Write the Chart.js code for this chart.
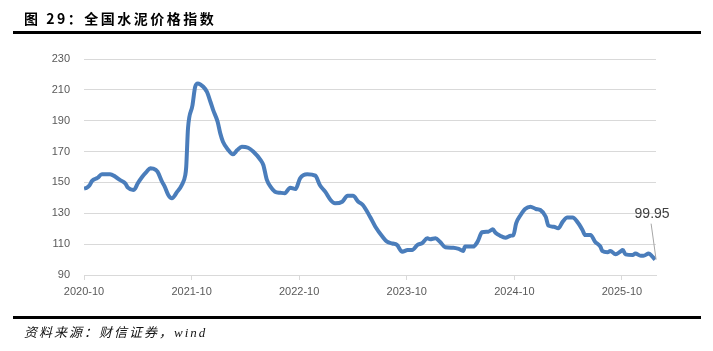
<!DOCTYPE html>
<html>
<head>
<meta charset="utf-8">
<script src="https://cdn.jsdelivr.net/npm/chart.js@4"></script>
<style>
  body { margin: 0; background: #fff; }
  #wrap { position: relative; width: 713px; height: 351px; overflow: hidden; }
  #chart { position: absolute; left: 0; top: 0; }
  .title {
    position: absolute; left: 24px; top: 8px;
    font-family: "Noto Sans CJK SC", sans-serif; font-weight: bold;
    font-size: 14px; letter-spacing: 2.5px; color: #000;
  }
  .rule { position: absolute; left: 13px; width: 688px; height: 3px; background: #000; }
  .source {
    position: absolute; left: 24px; top: 322px;
    font-family: "Liberation Serif", "Noto Sans CJK SC", serif; font-style: italic;
    font-size: 13px; letter-spacing: 2px; color: #111;
  }
</style>
</head>
<body>
<div id="wrap">
  <canvas id="chart" width="713" height="351"></canvas>
  <div class="title">图 29：全国水泥价格指数</div>
  <div class="rule" style="top:31px"></div>
  <div class="rule" style="top:316px"></div>
  <div class="source">资料来源：财信证券，wind</div>
</div>
<script>
// months since 2020-10
const months = [0.0, 0.3, 0.6, 0.9, 1.5, 2.0, 2.9, 3.5, 4.0, 4.6, 4.9, 5.5, 5.7, 6.0, 6.5, 7.0, 7.4, 7.7, 8.2, 8.7,
  9.0, 9.4, 9.8, 10.4, 10.9, 11.3, 11.4, 11.6, 12.1, 12.4, 12.7, 13.3, 13.7, 14.1, 14.4, 14.9, 15.2, 15.5, 16.1, 16.6,
  17.1, 17.6, 18.3, 18.9, 19.7, 20.0, 20.4, 20.8, 21.3, 21.9, 22.4, 23.0, 23.6, 24.1, 24.9, 25.8, 26.3, 26.9, 27.5, 28.0,
  28.8, 29.4, 30.0, 30.6, 31.1, 31.9, 32.5, 33.3, 33.8, 34.4, 34.9, 35.5, 36.1, 36.6, 37.2, 37.7, 38.3, 38.6, 39.2, 39.7,
  40.3, 41.2, 41.8, 42.3, 42.5, 43.4, 43.9, 44.4, 45.1, 45.6, 45.9, 46.4, 47.0, 47.6, 47.9, 48.2, 48.7, 49.2, 49.8, 50.4,
  50.9, 51.5, 51.8, 52.4, 52.9, 53.4, 53.9, 54.5, 55.0, 55.6, 55.9, 56.5, 57.0, 57.6, 57.8, 58.4, 58.7, 59.3, 59.8, 60.1,
  60.4, 61.2, 61.5, 62.1, 62.4, 63.0, 63.4, 63.7];
const cementIndex = [146, 146.5, 148, 151, 152.9, 155.3, 155.3, 153.7, 151.6, 149.4, 146.6, 145.1, 146, 149.4, 153.7, 157, 159.2, 159, 157, 150.5,
  147.3, 141.9, 139.7, 144, 148.3, 154.8, 160, 185, 200, 212, 214.2, 212, 208.8, 202.3, 197, 189.4, 181.8, 176.4, 171, 168.2,
  171, 173.2, 172.5, 169.9, 164.5, 161.3, 151.6, 147.3, 144, 143.3, 143, 146.6, 145.7, 152.7, 155.3, 154.4, 148.3, 144, 138.6, 136.5,
  137.5, 141.4, 141.4, 137.5, 135.4, 127.8, 121.3, 114.8, 111.6, 110.4, 109.5, 105.1, 106.2, 106.2, 109.5, 110.6, 113.8, 113.2, 113.8, 111.6,
  108, 107.7, 106.9, 105.6, 108.4, 108.4, 111.6, 117.7, 118.1, 119.6, 117.4, 115.5, 114.2, 115.5, 115.9, 123.5, 128.9, 132.8, 134.3, 132.8,
  132.1, 127.8, 122, 121.3, 120.3, 124.6, 127.2, 127.2, 124.6, 119.2, 115.9, 115.9, 111.6, 108.4, 105.6, 104.7, 105.6, 103.4, 105.1, 106.2,
  103.4, 103, 104, 102.5, 102.5, 104, 101.9, 99.95];
const tickMonths = [0, 12, 24, 36, 48, 60];
const tickLabels = ['2020-10', '2021-10', '2022-10', '2023-10', '2024-10', '2025-10'];
const lastLabel = '99.95';

const points = months.map((m, i) => ({ x: m, y: cementIndex[i] }));

// label for the last value with a thin leader line
const lastValueLabel = {
    id: 'lastValueLabel',
    afterDatasetsDraw(chart) {
        const meta = chart.getDatasetMeta(0);
        const pt = meta.data[meta.data.length - 1];
        const ctx = chart.ctx;
        ctx.save();
        ctx.strokeStyle = '#a6a6a6';
        ctx.lineWidth = 1;
        ctx.beginPath();
        ctx.moveTo(pt.x - 4, pt.y - 36);
        ctx.lineTo(pt.x + 1, pt.y);
        ctx.stroke();
        ctx.fillStyle = '#404040';
        ctx.font = '14px "Liberation Sans", sans-serif';
        ctx.textAlign = 'center';
        ctx.textBaseline = 'middle';
        ctx.fillText(lastLabel, pt.x - 3, pt.y - 46);
        ctx.restore();
    }
};

new Chart(document.getElementById('chart').getContext('2d'), {
    type: 'line',
    data: {
        datasets: [{
            data: points,
            borderColor: '#4a7dbb',
            borderWidth: 4,
            pointRadius: 0,
            cubicInterpolationMode: 'monotone',
            fill: false
        }]
    },
    options: {
        responsive: false,
        animation: false,
        layout: { padding: { top: 59, right: 57, bottom: 51, left: 0 } },
        plugins: { legend: { display: false }, tooltip: { enabled: false } },
        scales: {
            x: {
                type: 'linear',
                min: 0,
                max: 63.8,
                afterBuildTicks: s => { s.ticks = tickMonths.map(v => ({ value: v })); },
                afterFit: s => { s.height = 25; },
                ticks: {
                    callback: v => tickLabels[tickMonths.indexOf(v)] || '',
                    color: '#595959',
                    font: { family: 'Liberation Sans', size: 11 },
                    maxRotation: 0,
                    padding: 5
                },
                grid: { drawOnChartArea: false, drawTicks: true, tickLength: 5, color: '#d9d9d9' },
                border: { color: '#d9d9d9' }
            },
            y: {
                min: 90,
                max: 230,
                afterFit: s => { s.width = 84; },
                ticks: {
                    stepSize: 20,
                    color: '#595959',
                    font: { family: 'Liberation Sans', size: 11 },
                    padding: 14
                },
                grid: { color: '#d9d9d9', drawTicks: false },
                border: { display: false }
            }
        }
    },
    plugins: [lastValueLabel]
});
</script>
</body>
</html>
